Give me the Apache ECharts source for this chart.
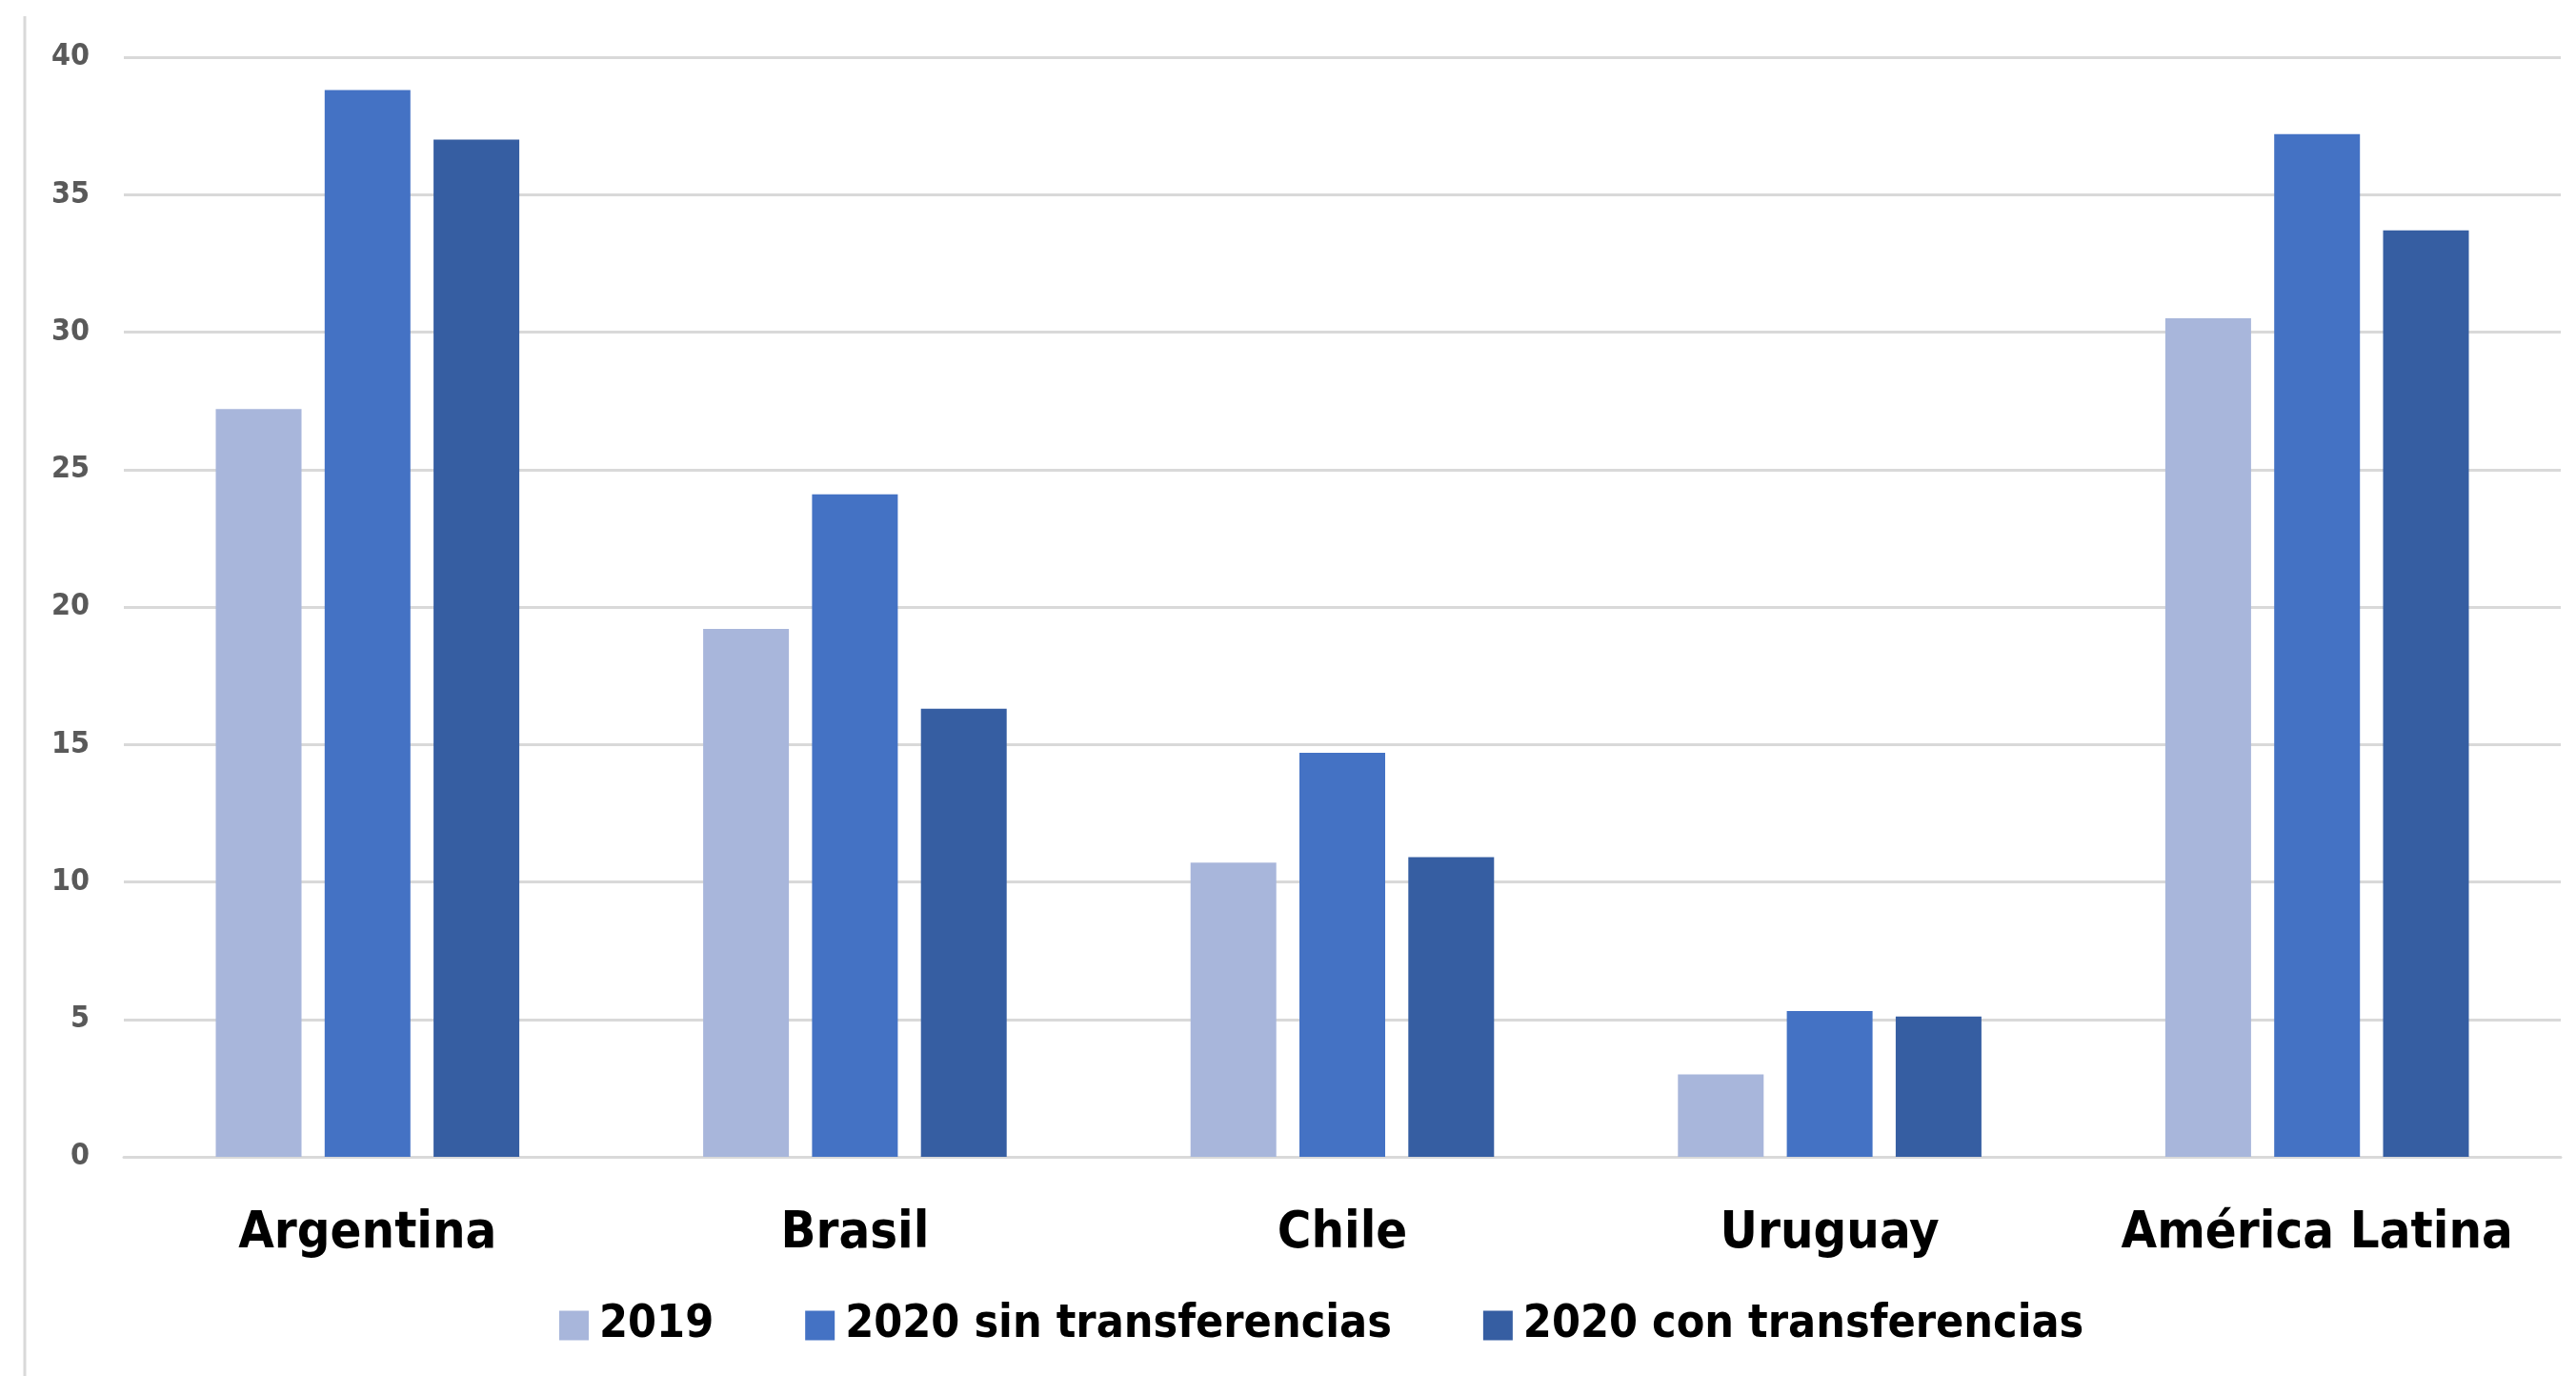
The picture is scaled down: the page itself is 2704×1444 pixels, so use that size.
<!DOCTYPE html>
<html><head><meta charset="utf-8">
<script src="https://cdn.jsdelivr.net/npm/echarts@6/dist/echarts.min.js"></script>
<style>html,body{margin:0;padding:0;background:#fff}#c{width:2704px;height:1444px}</style>
</head><body><div id="c"></div>
<script>
const categories = ['Argentina', 'Brasil', 'Chile', 'Uruguay', 'América Latina'];
const seriesNames = ['2019', '2020 sin transferencias', '2020 con transferencias'];
const v2019 = [27.2, 19.2, 10.7, 3.0, 30.5];
const v2020sin = [38.8, 24.1, 14.7, 5.3, 37.2];
const v2020con = [37.0, 16.3, 10.9, 5.1, 33.7];
const yTicks = [0, 5, 10, 15, 20, 25, 30, 35, 40];
const colors = ['#a8b6db', '#4472c4', '#365ea2'];

const FONT = '"DejaVu Sans Condensed", "Liberation Sans", sans-serif';
const chart = echarts.init(document.getElementById('c'), null, {renderer: 'canvas'});
const vals = [v2019, v2020sin, v2020con];
chart.setOption({
  animation: false,
  backgroundColor: '#ffffff',
  color: colors,
  grid: {left: 130, right: 16, top: 60, bottom: 230, containLabel: false},
  legend: {
    data: seriesNames,
    left: 582, top: 1362,
    itemWidth: 31, itemHeight: 31, itemGap: 96,
    icon: 'rect',
    textStyle: {fontFamily: FONT, fontWeight: 'bold', fontSize: 48, color: '#000', padding: [0, 0, 0, 6]}
  },
  xAxis: {
    type: 'category', data: categories,
    axisLine: {lineStyle: {color: '#d9d9d9', width: 3}},
    axisTick: {show: false},
    axisLabel: {interval: 0, fontFamily: FONT, fontWeight: 'bold', fontSize: 54, color: '#000', margin: 54}
  },
  yAxis: {
    type: 'value', min: yTicks[0], max: yTicks[yTicks.length - 1], interval: 5,
    axisLine: {show: false}, axisTick: {show: false},
    splitLine: {lineStyle: {color: '#d9d9d9', width: 3}},
    axisLabel: {fontFamily: FONT, fontWeight: 'bold', fontSize: 32, color: '#595959', margin: 36}
  },
  graphic: [{
    type: 'line', shape: {x1: 26, y1: 17, x2: 26, y2: 1444},
    style: {stroke: '#d9d9d9', lineWidth: 3}
  }],
  series: seriesNames.map((n, i) => ({
    name: n, type: 'bar', data: vals[i],
    barWidth: 90, barGap: '27%',
    itemStyle: {color: colors[i]}
  }))
});
</script></body></html>
